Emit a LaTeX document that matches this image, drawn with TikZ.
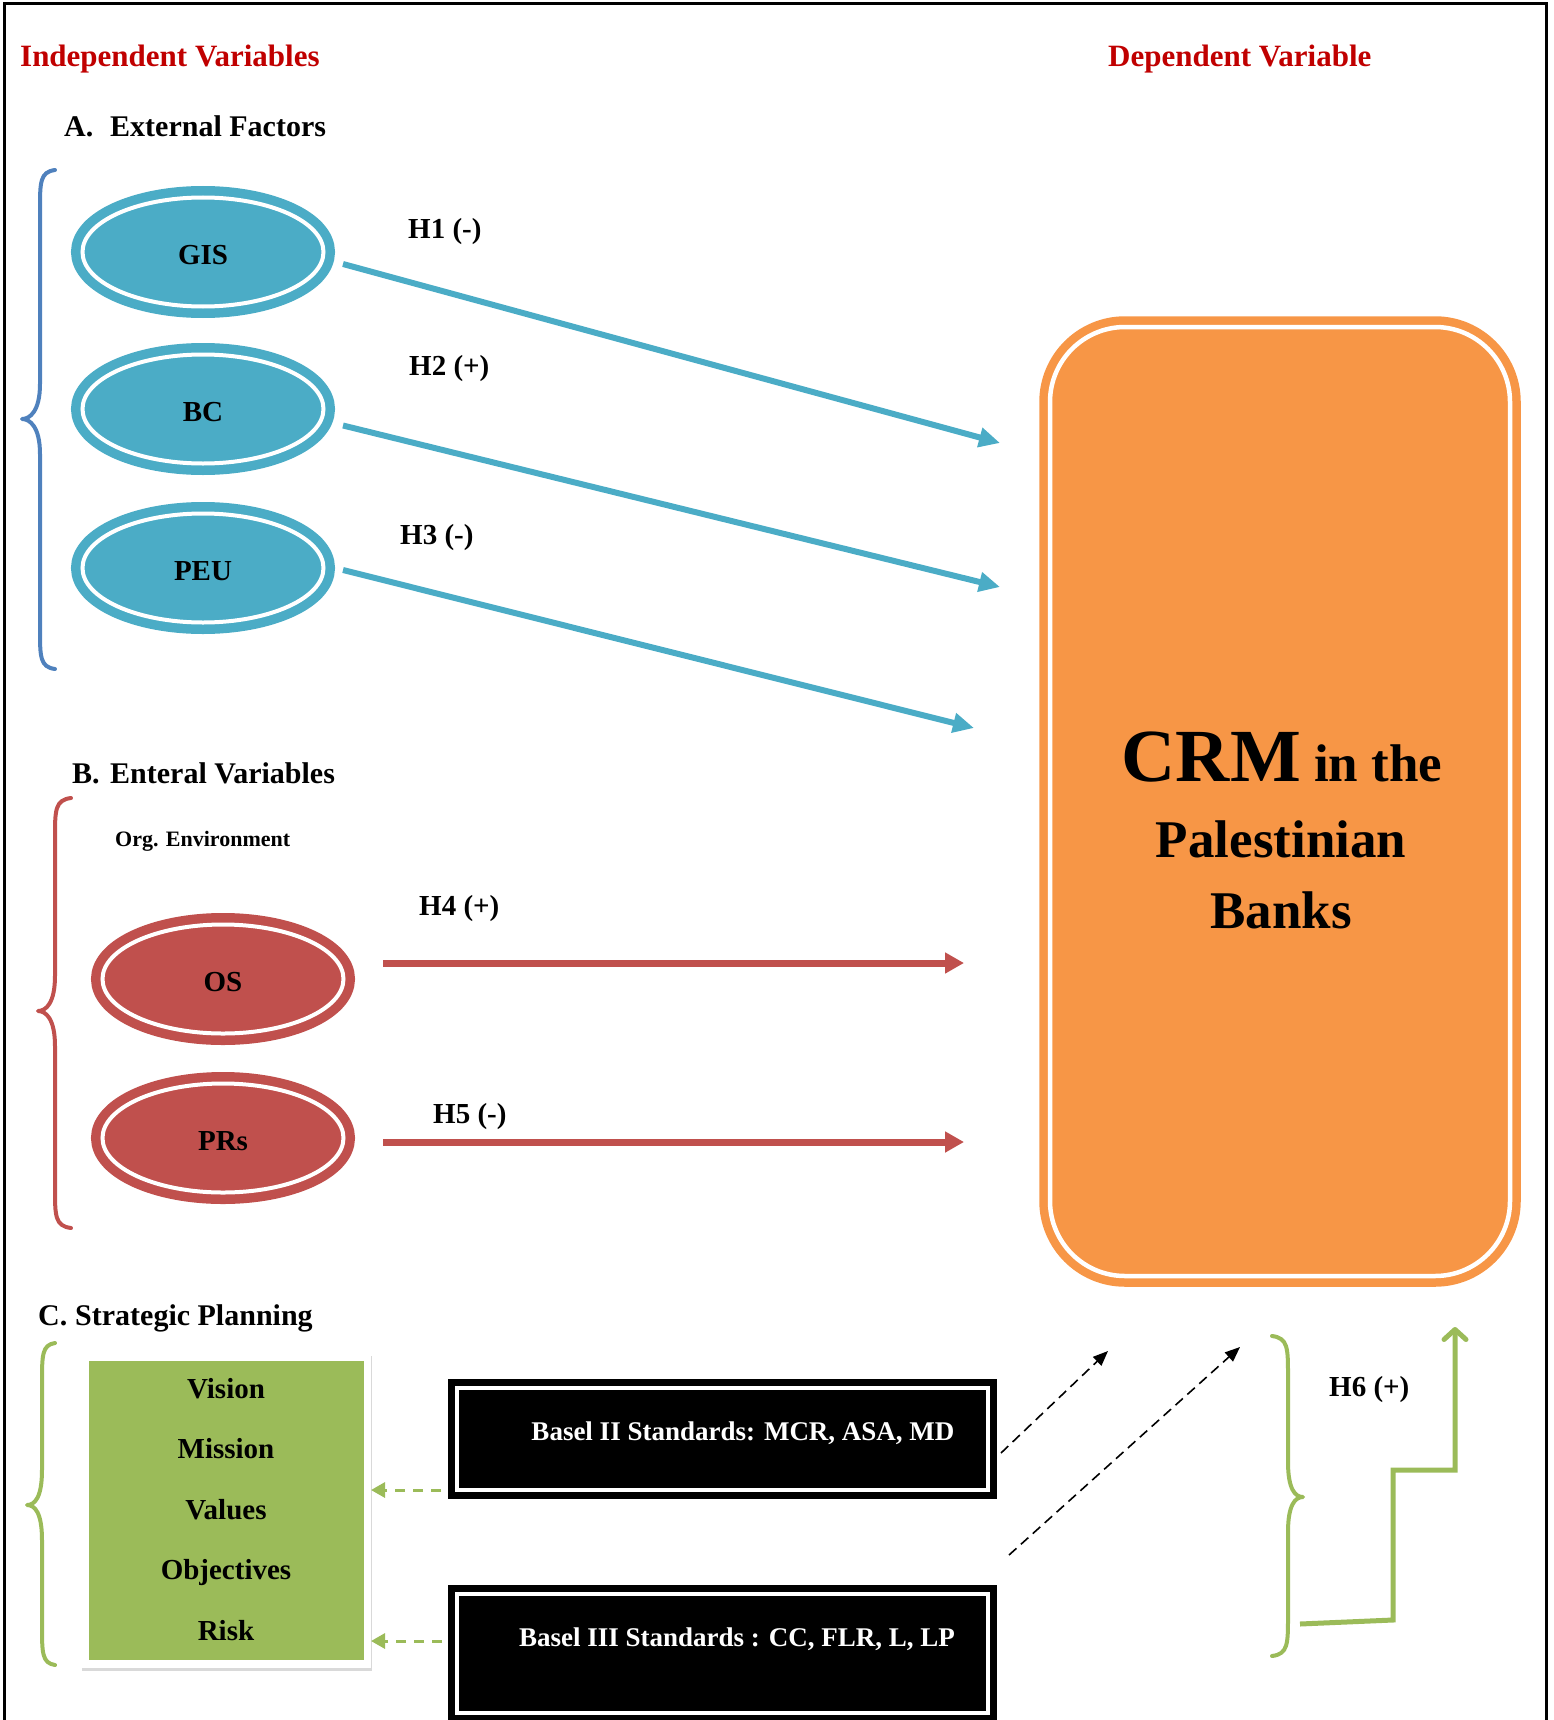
\documentclass[tikz,border=0pt]{standalone}
\usepackage{fontspec}
\setmainfont{Liberation Serif}
\usetikzlibrary{arrows.meta,shapes.geometric,shadows}

\definecolor{cblue}{HTML}{4BACC6}
\definecolor{bbrace}{HTML}{4F81BD}
\definecolor{cred}{HTML}{C0504D}
\definecolor{ttlc}{HTML}{C00000}
\definecolor{corange}{HTML}{F79646}
\definecolor{cgreen}{HTML}{9BBB59}

\newcommand{\fs}[1]{\fontsize{#1}{#1}\selectfont\bfseries}
% color, sign, xtip, xmid, xend, ytop, ytip, ybot
\newcommand{\Brc}[8]{%
\pgfmathsetmacro{\brcx}{#3+8*#2}%
\draw[#1, line width=4pt, line cap=round, line join=round] (#5,#6) .. controls (#4,#6+2) and (#4,#6+12) .. (#4,#6+40) -- (#4,#7-35) .. controls (#4,#7-8) and (\brcx,#7) .. (#3,#7) .. controls (\brcx,#7) and (#4,#7+8) .. (#4,#7+35) -- (#4,#8-40) .. controls (#4,#8-12) and (#4,#8-2) .. (#5,#8);}

\begin{document}
\begin{tikzpicture}[x=1pt,y=-1pt,
  ttl/.style={anchor=base west, inner sep=0pt, font=\fs{31}, text=ttlc},
  hd/.style={anchor=base west, inner sep=0pt, font=\fs{30}},
  hyp/.style={anchor=base west, inner sep=0pt, font=\fs{29}},
  ellnode/.style={ellipse, minimum width=241pt, minimum height=109pt, inner sep=0pt, outer sep=0pt, line width=9.5pt, double=white, double distance=4pt, font=\fs{29}, text height=25pt, text depth=0pt},
  blueell/.style={ellnode, draw=cblue, fill=cblue},
  redell/.style={ellnode, draw=cred, fill=cred},
  bluearr/.style={cblue, line width=6pt, -{Triangle[length=21pt,width=19pt]}},
  redarr/.style={cred, line width=7pt, -{Triangle[length=19pt,width=20pt]}},
  blkdash/.style={black, line width=1.6pt, dash pattern=on 10pt off 6pt, -{Triangle[length=15pt,width=12pt]}},
  grndash/.style={cgreen, line width=3pt, dash pattern=on 10pt off 8pt, -{Triangle[length=14pt,width=15pt]}},
  spitem/.style={anchor=base, inner sep=0pt, font=\fs{29}},
  baselbox/.style={fill=black, inner sep=0pt, outer sep=0pt, minimum width=549pt},
  baseltxt/.style={anchor=base, inner sep=0pt, font=\fs{27}, text=white}
]
\useasboundingbox (0,0) rectangle (1554,1720);

% frame
\draw[line width=3pt] (4,1722) -- (4,4) -- (1546,4) -- (1546,1722);

% titles
\node[ttl] (indep) at (20,67) {Independent Variables};
\node[ttl] (dep) at (1108,67) {Dependent Variable};

% section A
\node[hd] (ha) at (64,137) {A.};
\node[hd] (hat) at (110,137) {External Factors};
\Brc{bbrace}{1}{22}{40}{55}{170}{419}{669}
\node[blueell] (gis) at (203,252) {GIS};
\node[blueell] (bc) at (203,409) {BC};
\node[blueell] (peu) at (203,568) {PEU};

% section B
\node[hd] (hb) at (72,783) {B.};
\node[hd] (hbt) at (110,783) {Enteral Variables};
\node[anchor=base west, inner sep=0pt, font=\fs{22}] (org) at (115,846) {Org. Environment};
\Brc{cred}{1}{38}{55}{71}{798}{1011}{1228}
\node[redell] (os) at (223,979) {OS};
\node[redell] (prs) at (223,1138) {PRs};

% CRM box
\node[draw=corange, fill=corange, line width=8.5pt, double=white, double distance=4.5pt,
      rounded corners=75pt, minimum width=460pt, minimum height=949pt, inner sep=0pt, outer sep=0pt] (crm) at (1280,801.5) {};
\node[anchor=base, inner sep=0pt] (crm1) at (1282,781) {{\fs{75}CRM}{\fs{53} in the}};
\node[anchor=base, inner sep=0pt, font=\fs{53}] (crm2) at (1281,857) {Palestinian};
\node[anchor=base, inner sep=0pt, font=\fs{53}] (crm3) at (1281,928) {Banks};

% arrow end points
\coordinate (t1) at (1000,443);
\coordinate (t2) at (1000,587);
\coordinate (t3) at (974,728);
\coordinate (t4) at (964,963);
\coordinate (t5) at (964,1142);

\draw[bluearr] ([shift={(19.5,12)}]gis.east) -- (t1);
\draw[bluearr] ([shift={(19.5,16.5)}]bc.east) -- (t2);
\draw[bluearr] ([shift={(19.5,2)}]peu.east) -- (t3);
\draw[redarr] ([shift={(39.5,-16)}]os.east) -- (t4);
\draw[redarr] ([shift={(39.5,4)}]prs.east) -- (t5);

\node[hyp] (h1) at (408,239) {H1 (-)};
\node[hyp] (h2) at (409,375) {H2 (+)};
\node[hyp] (h3) at (400,544) {H3 (-)};
\node[hyp] (h4) at (419,915) {H4 (+)};
\node[hyp] (h5) at (433,1123) {H5 (-)};
\node[hyp] (h6) at (1329,1396) {H6 (+)};

% section C
\node[hd] (hc) at (38,1325) {C.};
\node[hd] (hct) at (75,1325) {Strategic Planning};
\Brc{cgreen}{1}{27}{42}{55}{1343}{1505}{1665}

\node[fill=white, inner sep=0pt, outer sep=0pt, minimum width=290pt, minimum height=315pt,
      drop shadow={shadow xshift=1pt, shadow yshift=-3pt, opacity=0.3}] (sp) at (226,1510.5) {};
\node[fill=cgreen, inner sep=0pt, minimum width=275pt, minimum height=299pt] (spg) at (sp) {};
\node[spitem] (v1) at (226,1398) {Vision};
\node[spitem] (v2) at (226,1458) {Mission};
\node[spitem] (v3) at (226,1519) {Values};
\node[spitem] (v4) at (226,1579) {Objectives};
\node[spitem] (v5) at (226,1640) {Risk};

% Basel boxes
\node[baselbox, minimum height=120pt] (b2) at (722.5,1439) {};
\draw[white, line width=4pt] ([shift={(9,9)}]b2.north west) rectangle ([shift={(-9,-9)}]b2.south east);
\node[baseltxt] (b2t) at (743,1440) {Basel II Standards: MCR, ASA, MD};

\node[baselbox, minimum height=137pt] (b3) at (722.5,1653.5) {};
\draw[white, line width=4pt] ([shift={(9,9)}]b3.north west) rectangle ([shift={(-9,-9)}]b3.south east);
\node[baseltxt] (b3t) at (737,1646) {Basel III Standards : CC, FLR, L, LP};

% green dashed arrows
\coordinate (g1) at ([shift={(-7,-9)}]b2.south west);
\coordinate (g2) at ([shift={(-6,56)}]b3.north west);
\draw[grndash] (g1) -- (g1 -| sp.east);
\draw[grndash] (g2) -- (g2 -| sp.east);

% black dashed arrows
\coordinate (d1) at (1108,1351);
\coordinate (d2) at (1240,1347);
\draw[blkdash] ([shift={(4,14)}]b2.east) -- (d1);
\draw[blkdash] ([shift={(12,56)}]b2.south east) -- (d2);

% right brace and step arrow
\Brc{cgreen}{-1}{1303}{1288}{1272}{1336}{1497}{1656}
\coordinate (s0) at (1300,1624);
\coordinate (s1) at (1393,1620);
\coordinate (s2) at (1393,1470);
\coordinate (s3) at (1455,1470);
\coordinate (s4) at (1455,1327);
\draw[cgreen, line width=5pt, -{Straight Barb[length=10pt,width=22pt,round]}] (s0) -- (s1) -- (s2) -- (s3) -- (s4);
\end{tikzpicture}
\end{document}
